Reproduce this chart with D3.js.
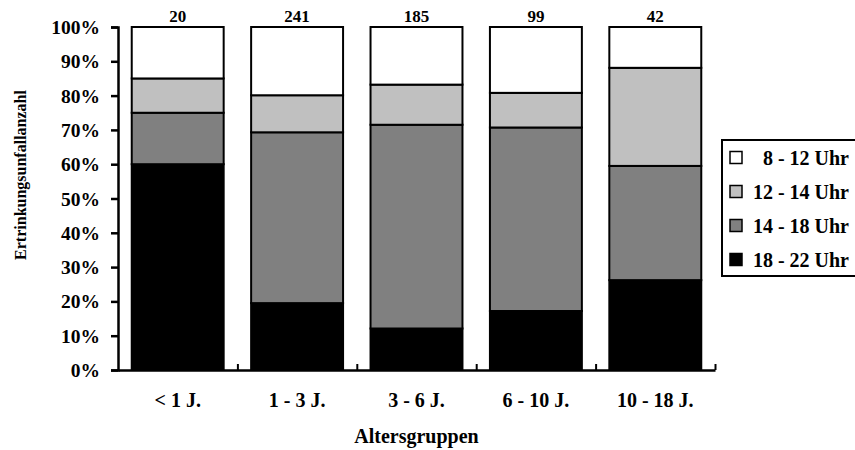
<!DOCTYPE html>
<html>
<head>
<meta charset="utf-8">
<script src="https://cdn.jsdelivr.net/npm/d3@7"></script>
<style>
  body { margin: 0; background: #fff; }
  svg text { font-family: "Liberation Serif", "Times New Roman", serif; font-weight: bold; fill: #000; }
</style>
</head>
<body>
<svg id="chart" width="855" height="450"></svg>
<script>
const categories = ["< 1 J.", "1 - 3 J.", "3 - 6 J.", "6 - 10 J.", "10 - 18 J."];
const counts = [20, 241, 185, 99, 42];
// percent per time slot, bottom to top
const slot1822 = [60, 19.5, 12.1, 17.2, 26.2];
const slot1418 = [15, 49.8, 59.4, 53.5, 33.3];
const slot1214 = [10, 10.8, 11.7, 10.1, 28.6];
const slot0812 = [15, 19.9, 16.8, 19.2, 11.9];
const seriesNames = ["18 - 22 Uhr", "14 - 18 Uhr", "12 - 14 Uhr", "8 - 12 Uhr"];
const seriesColors = ["#000000", "#808080", "#c0c0c0", "#ffffff"];
const yTicks = [0, 10, 20, 30, 40, 50, 60, 70, 80, 90, 100];

const allSeries = [slot1822, slot1418, slot1214, slot0812];
const rows = categories.map((c, i) => {
  const r = { cat: c };
  seriesNames.forEach((s, j) => (r[s] = allSeries[j][i]));
  return r;
});

const svg = d3.select("#chart");
const plotLeft = 118, plotRight = 715, plotTop = 27, plotBottom = 370;

function label(g, x, y, txt, anchor, size) {
  return g.append("text")
    .attr("x", x)
    .attr("y", y)
    .attr("text-anchor", anchor)
    .style("font-size", size + "px")
    .text(txt);
}

const x = d3.scaleBand().domain(categories).range([plotLeft, plotRight])
  .paddingInner(0.23).paddingOuter(0.115);
const y = d3.scaleLinear().domain([0, 100]).range([plotBottom, plotTop]);

// Bars
const stacked = d3.stack().keys(seriesNames)(rows);
svg.append("g")
  .selectAll("g")
  .data(stacked)
  .join("g")
  .attr("fill", (d, i) => seriesColors[i])
  .selectAll("rect")
  .data((d) => d)
  .join("rect")
  .attr("x", (d) => x(d.data.cat))
  .attr("width", x.bandwidth())
  .attr("y", (d) => y(d[1]))
  .attr("height", (d) => y(d[0]) - y(d[1]))
  .attr("stroke", "#000")
  .attr("stroke-width", 2);

// Y axis
const yAxis = svg.append("g")
  .attr("transform", `translate(${plotLeft},0)`)
  .call(d3.axisLeft(y).tickValues(yTicks).tickSize(7).tickFormat(""));
yAxis.select(".domain").attr("stroke-width", 2.5);
yAxis.selectAll(".tick line").attr("stroke-width", 2.5);
yTicks.forEach((t) => label(svg, plotLeft - 18, y(t) + 7, t + "%", "end", 19.5));

// X axis with inward boundary ticks
const bx = d3.scaleLinear().domain([0, categories.length]).range([plotLeft, plotRight]);
const xAxis = svg.append("g")
  .attr("transform", `translate(0,${plotBottom})`)
  .call(d3.axisBottom(bx).tickValues(d3.range(1, categories.length + 1)).tickSizeInner(-6).tickSizeOuter(0).tickFormat(""));
xAxis.select(".domain").attr("stroke-width", 2.5);
xAxis.selectAll(".tick line").attr("stroke-width", 2);
categories.forEach((c) => label(svg, x(c) + x.bandwidth() / 2, 407, c, "middle", 20));

// Counts above bars
categories.forEach((c, i) => label(svg, x(c) + x.bandwidth() / 2, 22, counts[i], "middle", 17));

// Axis titles
label(svg, (plotLeft + plotRight) / 2, 443, "Altersgruppen", "middle", 20);
svg.append("text")
  .attr("transform", "translate(26,175) rotate(-90)")
  .attr("text-anchor", "middle")
  .style("font-size", "16px")
  .text("Ertrinkungsunfallanzahl");

// Legend
const legend = svg.append("g");
legend.append("rect")
  .attr("x", 722).attr("y", 140).attr("width", 150).attr("height", 136)
  .attr("fill", "#fff").attr("stroke", "#000").attr("stroke-width", 2);
const legendOrder = [3, 2, 1, 0];
legendOrder.forEach((si, k) => {
  const cy = 158 + k * 34;
  legend.append("rect")
    .attr("x", 730).attr("y", cy - 6.5).attr("width", 12).attr("height", 12)
    .attr("fill", seriesColors[si]).attr("stroke", "#000").attr("stroke-width", 1.5);
  label(legend, 849, cy + 6.5, seriesNames[si], "end", 20);
});
</script>
</body>
</html>
